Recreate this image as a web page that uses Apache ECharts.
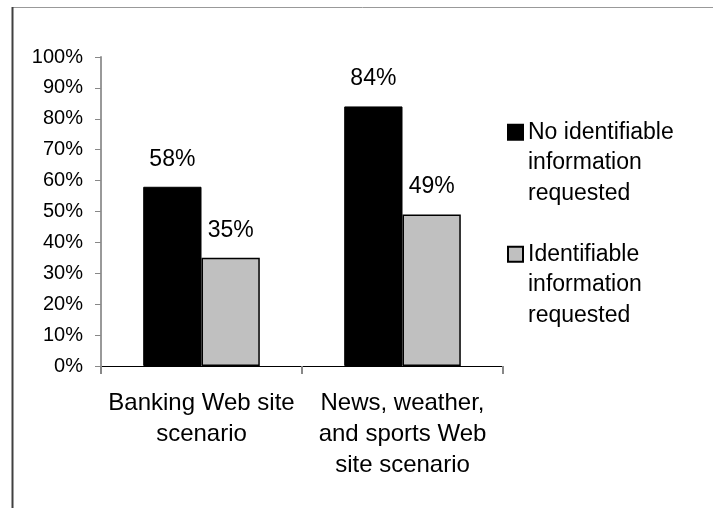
<!DOCTYPE html>
<html>
<head>
<meta charset="utf-8">
<script src="https://cdn.jsdelivr.net/npm/echarts@6/dist/echarts.min.js"></script>
<style>
  html, body { margin: 0; padding: 0; background: #fff; }
  #chart { width: 713px; height: 508px; }
</style>
</head>
<body>
<div id="chart"></div>
<script>
// Scenario categories along the x axis
const categories = ['Banking Web site\nscenario', 'News, weather,\nand sports Web\nsite scenario'];
// Series names (legend entries)
const seriesNames = ['No identifiable\ninformation\nrequested', 'Identifiable\ninformation\nrequested'];
// Percent of participants per scenario
const noIdentifiable = [58, 84];
const identifiable = [35, 49];
// Y axis range (percent)
const yMin = 0, yMax = 100, yStep = 10;

const FONT = '"Liberation Sans", Arial, sans-serif';

const chart = echarts.init(document.getElementById('chart'), null, { renderer: 'canvas' });

const labelStyle = {
  show: true,
  position: 'top',
  distance: 16,
  formatter: '{c}%',
  fontFamily: FONT,
  fontSize: 23,
  color: '#000'
};

// One legend block per series; two blank lines are prepended so the
// swatch (centred on the text block) sits beside the first text line.
function legendFor(name, top) {
  return {
    data: [name],
    orient: 'vertical',
    left: 507,
    top: top,
    padding: 0,
    itemWidth: 15,
    itemHeight: 15,
    icon: 'rect',
    selectedMode: false,
    formatter: n => '\n\n' + n,
    textStyle: {
      fontFamily: FONT,
      fontSize: 23,
      lineHeight: 30.5,
      color: '#000'
    }
  };
}

chart.setOption({
  animation: false,
  backgroundColor: '#fff',
  grid: { left: 101, right: 210, top: 57, bottom: 142, containLabel: false },
  legend: [legendFor(seriesNames[0], 56), legendFor(seriesNames[1], 178)],
  xAxis: {
    type: 'category',
    data: categories,
    axisLine: { show: true, lineStyle: { color: '#000', width: 1 } },
    axisTick: { show: true, length: 8, alignWithLabel: false, lineStyle: { color: '#888', width: 2 } },
    axisLabel: {
      margin: 22,
      fontFamily: FONT,
      fontSize: 24,
      lineHeight: 31,
      color: '#000',
      interval: 0
    },
    splitLine: { show: false }
  },
  yAxis: {
    type: 'value',
    min: yMin,
    max: yMax,
    interval: yStep,
    axisLine: { show: true, lineStyle: { color: '#999', width: 2 } },
    axisTick: { show: true, length: 6, lineStyle: { color: '#888', width: 1 } },
    axisLabel: {
      margin: 18,
      formatter: '{value}%',
      fontFamily: FONT,
      fontSize: 20,
      color: '#000'
    },
    splitLine: { show: false }
  },
  series: [
    {
      name: seriesNames[0],
      type: 'bar',
      data: noIdentifiable,
      barGap: '0%',
      barCategoryGap: '42%',
      itemStyle: { color: '#000', borderColor: '#000', borderWidth: 1 },
      label: labelStyle
    },
    {
      name: seriesNames[1],
      type: 'bar',
      data: identifiable,
      itemStyle: { color: '#c0c0c0', borderColor: '#000', borderWidth: 1.5 },
      label: labelStyle
    }
  ],
  graphic: [
    // outer frame edges
    { type: 'line', silent: true, shape: { x1: 12, y1: 7.5, x2: 713, y2: 7.5 }, style: { stroke: '#999', lineWidth: 1 } },
    { type: 'line', silent: true, shape: { x1: 12.5, y1: 7, x2: 12.5, y2: 508 }, style: { stroke: '#404040', lineWidth: 2 } }
  ]
});
</script>
</body>
</html>
